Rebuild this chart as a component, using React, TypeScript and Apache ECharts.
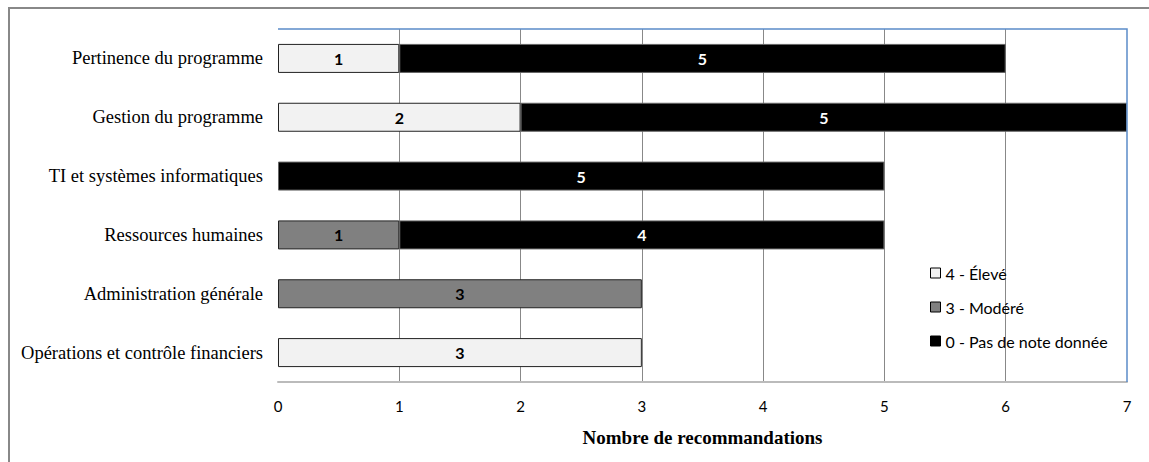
import React, { useEffect, useRef } from "react";
import * as echarts from "echarts";

const categories = [
  "Pertinence du programme",
  "Gestion du programme",
  "TI et systèmes informatiques",
  "Ressources humaines",
  "Administration générale",
  "Opérations et contrôle financiers",
];
const seriesNames = ["4 - Élevé", "3 - Modéré", "0 - Pas de note donnée"];
const eleve = [1, 2, 0, 0, 0, 3];
const modere = [0, 0, 0, 1, 3, 0];
const pasDeNote = [5, 5, 5, 4, 0, 0];
const xTicks = [0, 1, 2, 3, 4, 5, 6, 7];

const SANS = "Lato, 'Liberation Sans', sans-serif";
const SERIF = "'Liberation Serif', 'Times New Roman', serif";

const GRID = { left: 278, right: 22, top: 29, bottom: 80 };
const W = 1149;
const H = 462;

export default function App() {
  const ref = useRef<HTMLDivElement>(null);
  useEffect(() => {
    const chart = echarts.init(ref.current!, null, { renderer: "svg" });
    const mk = (name: string, vals: number[], color: string, labelColor: string, border: string) => ({
      name,
      type: "bar",
      stack: "total",
      barWidth: 29,
      z: 3,
      data: vals.map((v) => (v === 0 ? null : v)),
      itemStyle: { color, borderColor: border, borderWidth: 1 },
      label: {
        show: true,
        position: "inside",
        color: labelColor,
        fontFamily: SANS,
        fontWeight: "bold",
        fontSize: 16,
        formatter: (p: any) => (p.value ? String(p.value) : ""),
      },
    });
    const gx0 = GRID.left;
    const gx1 = W - GRID.right;
    const gy0 = GRID.top;
    const gy1 = H - GRID.bottom;
    chart.setOption({
      animation: false,
      backgroundColor: "#fff",
      graphic: [
        {
          type: "rect",
          shape: { x: 9, y: 8, width: 1300, height: 600 },
          style: { fill: "none", stroke: "#888", lineWidth: 2 },
          silent: true,
          z: 0,
        },
        {
          type: "line",
          shape: { x1: gx0, y1: gy0 + 1, x2: gx0, y2: gy1 - 2 },
          style: { stroke: "#fff", lineWidth: 2 },
          silent: true,
          z: 1,
        },
        {
          type: "polyline",
          shape: { points: [[gx0, gy0], [gx1, gy0], [gx1, gy1]] },
          style: { fill: "none", stroke: "#5b8cc9", lineWidth: 1.5 },
          silent: true,
          z: 10,
        },
      ],
      grid: { ...GRID, containLabel: false, show: false },
      legend: {
        orient: "vertical",
        left: 925,
        top: 260,
        itemWidth: 10,
        itemHeight: 10,
        itemGap: 18,
        icon: "rect",
        data: seriesNames,
        textStyle: { fontFamily: SANS, fontSize: 16, color: "#000" },
        itemStyle: { borderColor: "#000", borderWidth: 1 },
      },
      xAxis: {
        type: "value",
        min: 0,
        max: 7,
        interval: 1,
        position: "bottom",
        name: "Nombre de recommandations",
        nameLocation: "middle",
        nameGap: 46,
        nameTextStyle: { fontFamily: SERIF, fontWeight: "bold", fontSize: 19, color: "#000" },
        axisLine: { show: true, onZero: false, lineStyle: { color: "#bbb", width: 2 } },
        axisTick: { show: false },
        axisLabel: {
          fontFamily: SANS,
          fontSize: 15,
          color: "#000",
          margin: 16,
          formatter: (v: number) => (xTicks.includes(v) ? String(v) : ""),
        },
        splitLine: {
          show: true,
          showMinLine: false,
          showMaxLine: false,
          lineStyle: { color: "#888", width: 1 },
        },
      },
      yAxis: {
        type: "category",
        data: categories,
        inverse: true,
        axisLine: { show: false, onZero: false },
        axisTick: { show: false },
        splitLine: { show: false },
        axisLabel: { fontFamily: SERIF, fontSize: 18.5, color: "#000", margin: 15 },
      },
      series: [
        mk(seriesNames[0], eleve, "#f2f2f2", "#000", "#222"),
        mk(seriesNames[1], modere, "#808080", "#000", "#222"),
        mk(seriesNames[2], pasDeNote, "#000000", "#fff", "#666"),
      ],
    });
    return () => chart.dispose();
  }, []);
  return <div ref={ref} style={{ width: W, height: H, position: "absolute", left: 0, top: 0 }} />;
}
